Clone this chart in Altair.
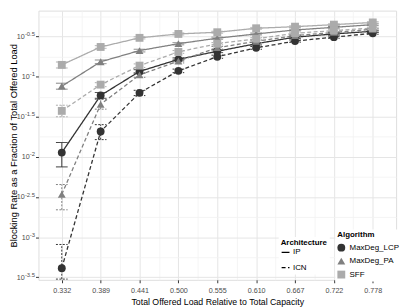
import altair as alt
import pandas as pd

# ---- data ----
loads = ["0.332", "0.389", "0.441", "0.500", "0.555", "0.610", "0.667", "0.722", "0.778"]
algorithms = ["MaxDeg_LCP", "MaxDeg_PA", "SFF"]
architectures = ["IP", "ICN"]

lcp_ip = [0.0113, 0.0583, 0.116, 0.164, 0.207, 0.257, 0.310, 0.340, 0.367]
lcp_ip_lo = [0.0075, 0.0536, 0.110, 0.157, 0.199, 0.248, 0.300, 0.330, 0.357]
lcp_ip_hi = [0.0151, 0.0634, 0.122, 0.171, 0.215, 0.266, 0.320, 0.350, 0.377]

lcp_icn = [0.00041, 0.0207, 0.0627, 0.118, 0.177, 0.228, 0.277, 0.310, 0.347]
lcp_icn_lo = [0.00030, 0.0164, 0.0580, 0.112, 0.169, 0.219, 0.268, 0.300, 0.337]
lcp_icn_hi = [0.00081, 0.0252, 0.0675, 0.124, 0.185, 0.237, 0.286, 0.320, 0.357]

pa_ip = [0.0759, 0.153, 0.211, 0.257, 0.301, 0.340, 0.381, 0.411, 0.444]
pa_ip_lo = [0.0697, 0.145, 0.203, 0.249, 0.292, 0.331, 0.372, 0.401, 0.434]
pa_ip_hi = [0.0827, 0.161, 0.219, 0.265, 0.310, 0.349, 0.390, 0.421, 0.454]

pa_icn = [0.00341, 0.0452, 0.105, 0.156, 0.229, 0.275, 0.324, 0.355, 0.389]
pa_icn_lo = [0.00219, 0.0393, 0.098, 0.148, 0.220, 0.266, 0.314, 0.345, 0.379]
pa_icn_hi = [0.00452, 0.0519, 0.112, 0.164, 0.238, 0.284, 0.334, 0.365, 0.399]

sff_ip = [0.140, 0.234, 0.304, 0.340, 0.357, 0.400, 0.419, 0.444, 0.473]
sff_ip_lo = [0.128, 0.225, 0.295, 0.330, 0.347, 0.390, 0.409, 0.434, 0.463]
sff_ip_hi = [0.152, 0.243, 0.313, 0.350, 0.367, 0.410, 0.429, 0.454, 0.483]

sff_icn = [0.0374, 0.0794, 0.137, 0.203, 0.257, 0.296, 0.347, 0.374, 0.403]
sff_icn_lo = [0.0316, 0.0750, 0.130, 0.195, 0.249, 0.287, 0.337, 0.364, 0.393]
sff_icn_hi = [0.0440, 0.0840, 0.144, 0.211, 0.265, 0.305, 0.357, 0.384, 0.413]

y_exponents = ["-3.5", "-3", "-2.5", "-2", "-1.5", "-1", "-0.5"]
y_minor_exponents = ["-3.25", "-2.75", "-2.25", "-1.75", "-1.25", "-0.75", "-0.25"]

series = {
    ("MaxDeg_LCP", "IP"): (lcp_ip, lcp_ip_lo, lcp_ip_hi),
    ("MaxDeg_LCP", "ICN"): (lcp_icn, lcp_icn_lo, lcp_icn_hi),
    ("MaxDeg_PA", "IP"): (pa_ip, pa_ip_lo, pa_ip_hi),
    ("MaxDeg_PA", "ICN"): (pa_icn, pa_icn_lo, pa_icn_hi),
    ("SFF", "IP"): (sff_ip, sff_ip_lo, sff_ip_hi),
    ("SFF", "ICN"): (sff_icn, sff_icn_lo, sff_icn_hi),
}

rows = []
for (alg, arch), (v, lo, hi) in series.items():
    for i, load in enumerate(loads):
        rows.append(dict(idx=i, load=load, Algorithm=alg, Architecture=arch, ArchE=arch,
                         series=alg + "_" + arch, rate=v[i], lo=lo[i], hi=hi[i]))
df = pd.DataFrame(rows)

# ---- styling ----
FONT = "Liberation Sans"
exp_index = "round(log(datum.value)/LN10*2)+7"
exp_label_expr = "[" + ",".join("'" + e + "'" for e in y_exponents) + "][" + exp_index + "]"
x_label_expr = "[" + ",".join("'" + s + "'" for s in loads) + "][round(datum.value)]"
short_exp_test = "round(log(datum.value)/LN10*2) % 2 == 0"

y_major = [10 ** float(e) for e in y_exponents]
y_minor = [10 ** float(e) for e in y_minor_exponents]
x_major = list(range(len(loads)))
x_minor = [i + 0.5 for i in range(len(loads) - 1)]

xs = alt.Scale(domain=[-0.6, len(loads) - 1 + 0.6], nice=False, zero=False)
ys = alt.Scale(type="log", domain=[10 ** -3.532, 10 ** -0.178], nice=False)

colors = ["#333333", "#808080", "#ababab"]
cs = alt.Scale(domain=algorithms, range=colors)
shapes = alt.Scale(domain=algorithms, range=["circle", "triangle-up", "square"])

alg_legend = alt.Legend(orient="none", legendX=302.2, legendY=222.7, title="Algorithm",
                        titleFontSize=8, titleFontWeight="bold", titleFont=FONT, titleColor="#000",
                        labelFontSize=8.1, labelFont=FONT, labelColor="#000",
                        symbolSize=64, rowPadding=4.7, titlePadding=4.5, labelOffset=4.3,
                        fillColor="white", padding=2, symbolStrokeWidth=0)
arch_legend = alt.Legend(orient="none", legendX=244.5, legendY=230.5, title="Architecture",
                         titleFontSize=8, titleFontWeight="bold", titleFont=FONT, titleColor="#000",
                         labelFontSize=8.1, labelFont=FONT, labelColor="#000",
                         symbolType="stroke", symbolSize=64, symbolStrokeColor="#000",
                         symbolStrokeWidth=1.3, rowPadding=5.5, titlePadding=0.5, labelOffset=2.5,
                         fillColor="white", padding=2)

base = alt.Chart(df)

# minor grid lines
grid = base.mark_point(opacity=0, size=1).encode(
    x=alt.X("idx:Q", scale=xs, axis=alt.Axis(orient="bottom", values=x_minor, grid=True,
                                               gridColor="#f2f2f2", gridWidth=0.8, labels=False,
                                               ticks=False, domain=False, title=None)),
    y=alt.Y("rate:Q", scale=ys, axis=alt.Axis(orient="left", values=y_minor, grid=True,
                                               gridColor="#f2f2f2", gridWidth=0.8, labels=False,
                                               ticks=False, domain=False, title=None)),
)

lines = base.mark_line(strokeWidth=1.3).encode(
    x=alt.X("idx:Q", scale=xs, axis=alt.Axis(
        orient="bottom", values=x_major, labelExpr=x_label_expr, grid=True, gridColor="#e4e4e4",
        gridWidth=1, domain=False, tickSize=3, tickColor="#333333", labelFontSize=7.3,
        labelColor="#4d4d4d", labelFont=FONT, labelPadding=4,
        title="Total Offered Load Relative to Total Capacity", titleFontSize=8.9,
        titleFontWeight="normal", titleFont=FONT, titleColor="#000", titlePadding=3.5)),
    y=alt.Y("rate:Q", scale=ys, axis=alt.Axis(
        orient="left", values=y_major, labelExpr="'10'", grid=True, gridColor="#e4e4e4",
        gridWidth=1, domain=False, tickSize=3, tickColor="#333333", labelFontSize=7.3,
        labelColor="#4d4d4d", labelFont=FONT,
        labelPadding={"condition": {"test": short_exp_test, "value": 6.4}, "value": 11.4},
        title="Blocking Rate as a Fraction of Total Offered Load", titleFontSize=9.5,
        titleFontWeight="normal", titleFont=FONT, titleColor="#000", titleX=-25.5,
        titleBaseline="middle")),
    stroke=alt.Stroke("Algorithm:N", scale=cs, legend=None),
    strokeDash=alt.StrokeDash("Architecture:N",
                              scale=alt.Scale(domain=architectures, range=[[1, 0], [4, 2.5]]),
                              legend=arch_legend),
    detail="series:N",
)

dash_e = alt.Scale(domain=architectures, range=[[1, 0], [2, 1.5]])

# error bars (the y axis of this layer carries the exponent part of the tick labels)
bars = base.mark_rule(strokeWidth=1).encode(
    x=alt.X("idx:Q", scale=xs, axis=None),
    y=alt.Y("lo:Q", scale=ys, axis=alt.Axis(
        orient="left", values=y_major, labelExpr=exp_label_expr, grid=False, domain=False,
        ticks=True, tickSize=3, tickOpacity=0, labelFontSize=6, labelColor="#4d4d4d",
        labelFont=FONT, labelPadding=1, labelOffset=-3, labelAlign="right", title=None)),
    y2="hi:Q",
    stroke=alt.Stroke("Algorithm:N", scale=cs, legend=None),
    strokeDash=alt.StrokeDash("ArchE:N", scale=dash_e, legend=None),
)

caps = base.transform_fold(["lo", "hi"], as_=["bound", "bval"]).transform_calculate(
    xl="datum.idx - 0.15", xr="datum.idx + 0.15"
).mark_rule(strokeWidth=1).encode(
    x=alt.X("xl:Q", scale=xs, axis=None),
    x2="xr:Q",
    y=alt.Y("bval:Q", scale=ys, axis=None),
    stroke=alt.Stroke("Algorithm:N", scale=cs, legend=None),
    strokeDash=alt.StrokeDash("ArchE:N", scale=dash_e, legend=None),
)

points = base.mark_point(filled=True, opacity=1, size=64).encode(
    x=alt.X("idx:Q", scale=xs, axis=None),
    y=alt.Y("rate:Q", scale=ys, axis=None),
    color=alt.Color("Algorithm:N", scale=cs, legend=alg_legend),
    shape=alt.Shape("Algorithm:N", scale=shapes, legend=alg_legend),
)

chart = alt.layer(grid, lines, bars, caps, points).resolve_scale(
    strokeDash="independent", color="independent", shape="independent", stroke="independent"
).resolve_axis(x="independent", y="independent").properties(
    width=364, height=274,
    autosize=alt.AutoSizeParams(type="none"),
    padding={"left": 31, "top": 0, "right": 5, "bottom": 26},
).configure_view(stroke="#9e9e9e", strokeWidth=1.3).configure(font=FONT)

chart.save("out.html", embed_options={"renderer": "svg", "actions": False})
